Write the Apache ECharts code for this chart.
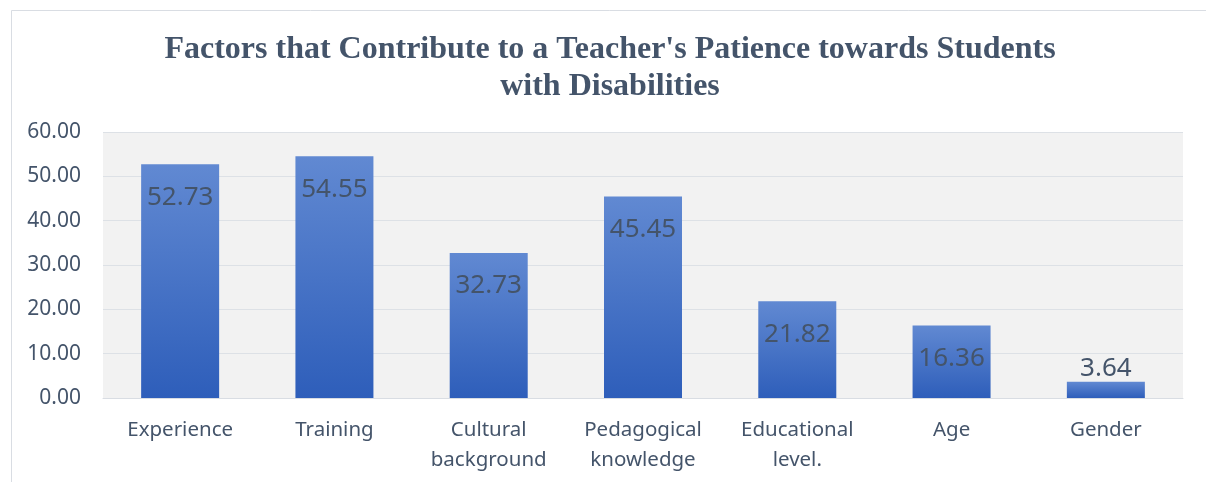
<!DOCTYPE html>
<html><head><meta charset="utf-8">
<script src="https://cdn.jsdelivr.net/npm/echarts@6/dist/echarts.min.js"></script>
<style>html,body{margin:0;padding:0;background:#fff}#c{width:1206px;height:482px}</style>
</head><body><div id="c"></div>
<script>
const categories = ['Experience', 'Training', 'Cultural\nbackground', 'Pedagogical\nknowledge', 'Educational\nlevel.', 'Age', 'Gender'];
const values = [52.73, 54.55, 32.73, 45.45, 21.82, 16.36, 3.64];
const titleText = "Factors that Contribute to a Teacher's Patience towards Students\nwith Disabilities";
const txt = '#44546a';
const chart = echarts.init(document.getElementById('c'), null, {renderer: 'canvas'});
chart.setOption({
  animation: false,
  backgroundColor: '#ffffff',
  graphic: [
    {type: 'rect', left: 9, top: 8, shape: {x: 0.5, y: 0.5, width: 1300, height: 600}, style: {fill: 'none', stroke: '#d9dde3', lineWidth: 1}, silent: true, z: -1},
    {type: 'text', x: 610, y: 31, silent: true, style: {text: titleText, fill: txt, font: 'bold 32px "Liberation Serif"', lineHeight: 37, align: 'center', verticalAlign: 'top'}}
  ],
  grid: {left: 103, right: 23, top: 132, bottom: 84, show: true, backgroundColor: '#f2f2f2', borderWidth: 0, containLabel: false},
  xAxis: {
    type: 'category', data: categories,
    axisLine: {show: true, lineStyle: {color: '#d9dde3', width: 1}},
    axisTick: {show: false},
    axisLabel: {color: txt, fontFamily: 'Noto Sans', fontSize: 20.5, lineHeight: 30, margin: 17, interval: 0}
  },
  yAxis: {
    type: 'value', min: 0, max: 60, interval: 10,
    axisLine: {show: false}, axisTick: {show: false},
    splitLine: {lineStyle: {color: '#dde1e6', width: 1}},
    axisLabel: {color: txt, fontFamily: 'Noto Sans', fontSize: 21, margin: 22, formatter: v => v.toFixed(2)}
  },
  series: [{
    type: 'bar', barWidth: 78,
    data: values.map((v, i) => i === values.length - 1 ? {value: v, label: {position: 'top', distance: 0}} : v),
    itemStyle: {color: new echarts.graphic.LinearGradient(0, 0, 0, 1, [{offset: 0, color: '#6189d2'}, {offset: 1, color: '#2e5eba'}])},
    label: {show: true, position: 'insideTop', distance: 20, color: txt, fontFamily: 'Noto Sans', fontSize: 26, formatter: p => p.value.toFixed(2)}
  }]
});
</script></body></html>
